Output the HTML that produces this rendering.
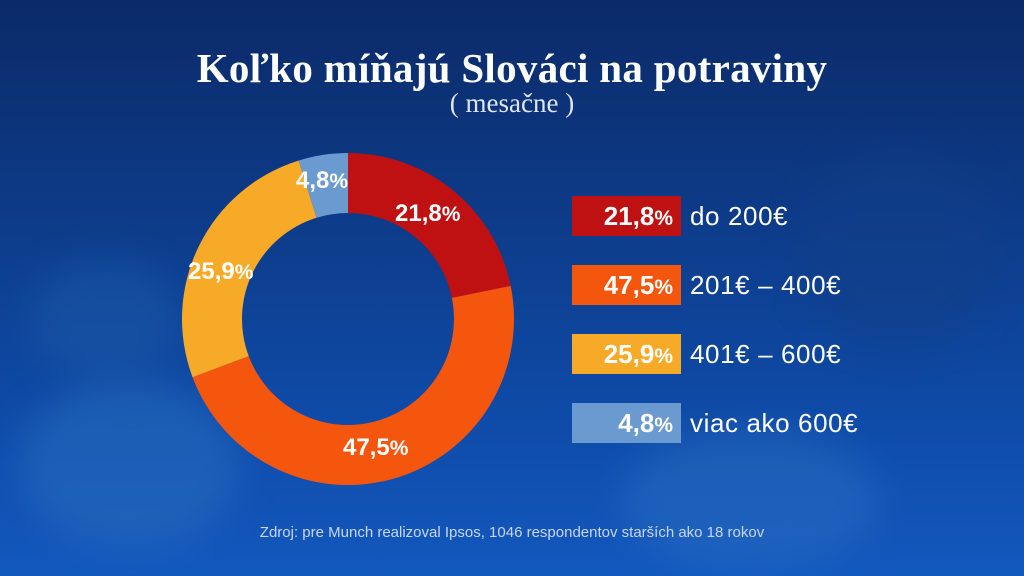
<!DOCTYPE html>
<html><head><meta charset="utf-8"><style>
body{margin:0;width:1024px;height:576px;overflow:hidden;font-family:"Liberation Sans",sans-serif;}
#bg{position:absolute;left:0;top:0;width:1024px;height:576px;background:linear-gradient(180deg,#0b2a68 0%,#0d3a86 35%,#0e4aa6 70%,#1358be 100%);}
.blob{position:absolute;border-radius:50%;filter:blur(18px);}
.t{position:absolute;color:#fff;white-space:nowrap;}
.box{position:absolute;left:572px;width:109px;height:40px;color:#fff;font-weight:bold;font-size:26px;text-align:right;box-sizing:border-box;padding-right:8px;line-height:40px;}
.lab{position:absolute;left:690px;color:#fff;font-size:26px;line-height:40px;letter-spacing:0.6px;}
.pc{font-size:21px;}
</style></head><body>
<div id="bg"></div>
<div class="blob" style="left:20px;top:380px;width:220px;height:170px;background:#2a6fc0;opacity:.5"></div>
<div class="blob" style="left:620px;top:430px;width:260px;height:140px;background:#2c70c4;opacity:.45"></div>
<div class="blob" style="left:30px;top:260px;width:150px;height:120px;background:#1d5aa8;opacity:.5"></div>
<div class="blob" style="left:800px;top:150px;width:200px;height:200px;background:#123f88;opacity:.5"></div>
<div class="t" style="left:0;width:1024px;text-align:center;top:44px;font-family:'Liberation Serif',serif;font-weight:bold;font-size:41px;letter-spacing:0.3px">Koľko míňajú Slováci na potraviny</div>
<div class="t" style="left:0;width:1024px;text-align:center;top:88px;font-family:'Liberation Serif',serif;font-size:27px;color:#dfe6f3">( mesačne )</div>
<svg style="position:absolute;left:0;top:0" width="1024" height="576" id="d"></svg>
<script>
var cx=348,cy=319,R=166,r=106,vals=[21.8,47.5,25.9,4.8],cols=['#bf1111','#f5560d','#f6aa27','#6b9ad0'];
var a=0,s='';
function p(rad,ang){ang=ang*Math.PI*2-Math.PI/2;return (cx+rad*Math.cos(ang)).toFixed(2)+','+(cy+rad*Math.sin(ang)).toFixed(2);}
for(var i=0;i<4;i++){var b=a+vals[i]/100;var l=(b-a)>0.5?1:0;
s+='<path fill="'+cols[i]+'" d="M'+p(R,a)+' A'+R+','+R+' 0 '+l+' 1 '+p(R,b)+' L'+p(r,b)+' A'+r+','+r+' 0 '+l+' 0 '+p(r,a)+' Z"/>';a=b;}
document.getElementById('d').innerHTML=s;
</script>
<div class="t" style="left:296px;top:167px;font-weight:bold;font-size:24px">4,8<span class="pc">%</span></div>
<div class="t" style="left:395px;top:200px;font-weight:bold;font-size:24px">21,8<span class="pc">%</span></div>
<div class="t" style="left:188px;top:258px;font-weight:bold;font-size:24px">25,9<span class="pc">%</span></div>
<div class="t" style="left:343px;top:434px;font-weight:bold;font-size:24px">47,5<span class="pc">%</span></div>
<div class="box" style="top:196px;background:#bf1111">21,8<span class="pc">%</span></div>
<div class="lab" style="top:196px">do 200€</div>
<div class="box" style="top:265px;background:#f5560d">47,5<span class="pc">%</span></div>
<div class="lab" style="top:265px">201€ – 400€</div>
<div class="box" style="top:334px;background:#f6aa27">25,9<span class="pc">%</span></div>
<div class="lab" style="top:334px">401€ – 600€</div>
<div class="box" style="top:403px;background:#6b9ad0">4,8<span class="pc">%</span></div>
<div class="lab" style="top:403px">viac ako 600€</div>
<div class="t" style="left:0;width:1024px;text-align:center;top:524px;font-size:15px;color:#c9d6ee">Zdroj: pre Munch realizoval Ipsos, 1046 respondentov starších ako 18 rokov</div>
</body></html>
